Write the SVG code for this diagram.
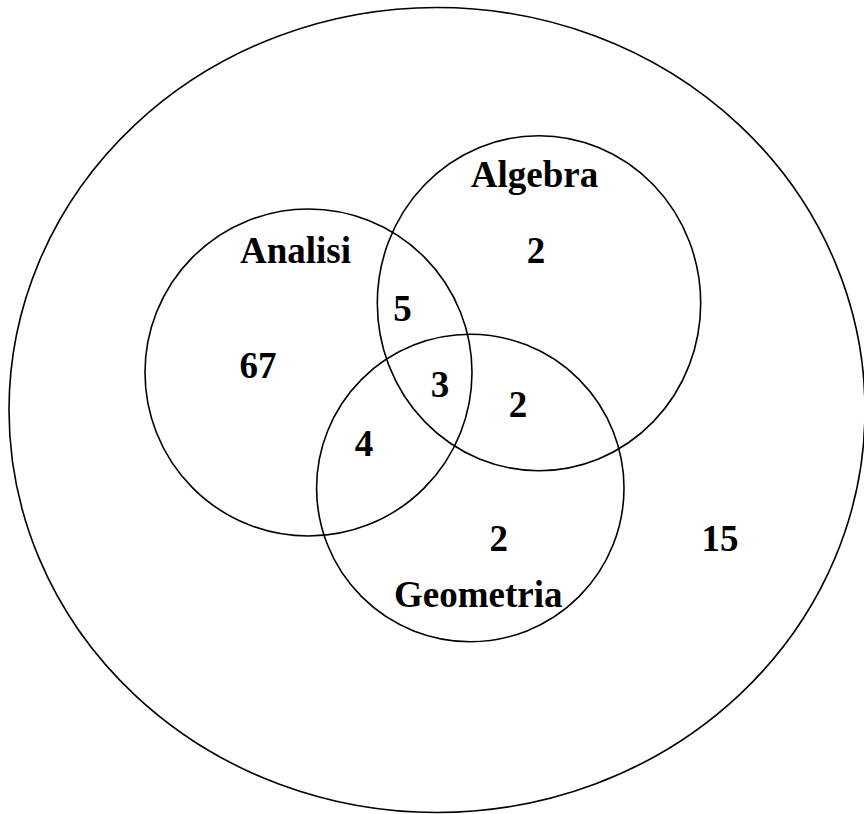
<svg xmlns="http://www.w3.org/2000/svg" width="864" height="814" viewBox="0 0 864 814">
<style>
.c{fill:none;stroke:#000;stroke-width:1.6}
.t{font-family:"Liberation Serif","Times New Roman",serif;font-weight:bold;font-size:37px;fill:#000;text-anchor:middle}
</style>
<rect width="864" height="814" fill="#fff"/>
<g id="universe"><ellipse class="c" cx="437" cy="410" rx="428" ry="402.5"/><text class="t" x="720" y="551">15</text></g>
<g id="analisi"><ellipse class="c" cx="308.5" cy="372.5" rx="163.5" ry="163.5"/><text class="t" x="295.5" y="263">Analisi</text><text class="t" x="258" y="378">67</text></g>
<g id="algebra"><ellipse class="c" cx="539" cy="303.2" rx="161.7" ry="167.5"/><text class="t" x="534.5" y="187">Algebra</text><text class="t" x="536" y="263">2</text></g>
<g id="geometria"><ellipse class="c" cx="470.3" cy="488" rx="153.7" ry="153.7"/><text class="t" x="478.3" y="607">Geometria</text><text class="t" x="498.7" y="551">2</text></g>
<g id="intersections"><text class="t" x="402.5" y="321">5</text><text class="t" x="440" y="397">3</text><text class="t" x="518" y="417">2</text><text class="t" x="364" y="456">4</text></g>
</svg>
